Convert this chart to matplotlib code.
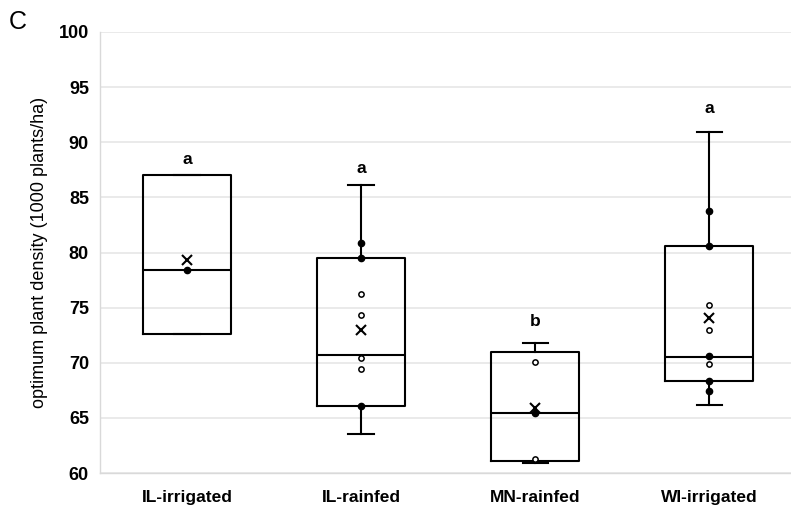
import numpy as np
import matplotlib.pyplot as plt

plt.rcParams["font.family"] = ["Liberation Sans", "DejaVu Sans"]

# Optimum plant density by environment
groups = ["IL-irrigated", "IL-rainfed", "MN-rainfed", "WI-irrigated"]
q1 = [72.6, 66.1, 61.1, 68.3]
median = [78.4, 70.7, 65.4, 70.5]
q3 = [87.0, 79.5, 71.0, 80.6]
whisker_lo = [72.6, 63.5, 60.9, 66.2]
whisker_hi = [87.0, 86.1, 71.8, 90.9]
mean = [79.3, 73.0, 65.9, 74.1]
filled_pts = [[78.4], [80.9, 79.5, 66.1], [65.4], [83.8, 80.6, 70.6, 68.3, 67.4]]
open_pts = [[], [76.2, 74.3, 70.4, 69.45], [70.1, 61.3], [75.2, 73.0, 69.9]]
letters = ["a", "a", "b", "a"]
letter_y = [88.4, 87.6, 73.7, 93.1]

fig = plt.figure(figsize=(7.91, 5.05), dpi=100)
ax = fig.add_axes([100 / 791, 32 / 505, 691 / 791, 441 / 505])

stats = []
for i, g in enumerate(groups):
    stats.append(dict(label=g, q1=q1[i], med=median[i], q3=q3[i],
                      whislo=whisker_lo[i], whishi=whisker_hi[i],
                      mean=mean[i], fliers=[]))

pos = np.arange(len(groups))
lw = 1.5
ax.bxp(stats, positions=pos, widths=0.507, showmeans=True, showfliers=False,
       boxprops=dict(color="black", linewidth=lw),
       medianprops=dict(color="black", linewidth=lw),
       whiskerprops=dict(color="black", linewidth=lw),
       capprops=dict(color="black", linewidth=lw),
       capwidths=0.145,
       meanprops=dict(marker="x", markeredgecolor="black", markersize=7,
                      markeredgewidth=1.5, linestyle="none"),
       zorder=3)

for i in range(len(groups)):
    if filled_pts[i]:
        ax.plot([pos[i]] * len(filled_pts[i]), filled_pts[i], "o", color="black",
                markersize=4.5, zorder=4)
    if open_pts[i]:
        ax.plot([pos[i]] * len(open_pts[i]), open_pts[i], "o", markerfacecolor="white",
                markeredgecolor="black", markersize=3.8, markeredgewidth=1.1, zorder=4)
    ax.text(pos[i], letter_y[i], letters[i], ha="center", va="center",
            fontsize=12.5, fontweight="bold")

ax.set_xlim(-0.5, 3.47)
ax.set_ylim(60, 100)
ax.set_yticks(np.arange(60, 101, 5))
ax.set_xticks(pos)
ax.set_xticklabels(groups, fontsize=12.5, fontweight="bold")
ax.tick_params(axis="both", length=0)
ax.tick_params(axis="x", pad=12)
ax.tick_params(axis="y", pad=8)
for lab in ax.get_yticklabels():
    lab.set_fontsize(13)
    lab.set_fontweight("bold")

ax.grid(axis="y", color="#e6e6e6", linewidth=1.2, zorder=0)
ax.set_axisbelow(True)
for side in ["top", "right"]:
    ax.spines[side].set_visible(False)
for side in ["left", "bottom"]:
    ax.spines[side].set_color("#d9d9d9")
    ax.spines[side].set_linewidth(1.0)

ax.set_ylabel("optimum plant density (1000 plants/ha)", fontsize=13, labelpad=8)
fig.text(18 / 791, 1 - 22 / 505, "C", fontsize=18, ha="center", va="center")

fig.savefig("out.png", dpi=100)
